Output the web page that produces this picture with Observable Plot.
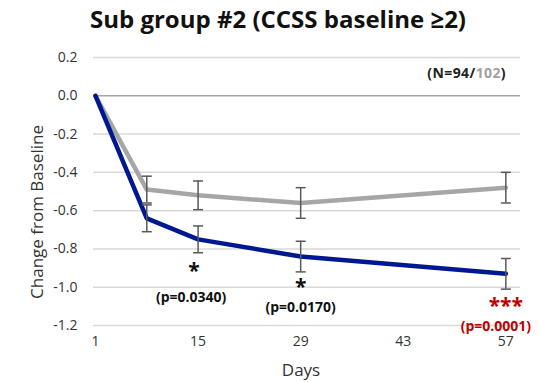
<!DOCTYPE html>
<html>
<head>
<meta charset="utf-8">
<script src="https://cdn.jsdelivr.net/npm/d3@7"></script>
<script src="https://cdn.jsdelivr.net/npm/@observablehq/plot@0.6"></script>
<style>
  html, body { margin: 0; padding: 0; background: #fff; }
  svg { font-family: "Open Sans", "Noto Sans", sans-serif; }
</style>
</head>
<body>
<div id="chart"></div>
<script>
const days = [1, 8, 15, 29, 57];
const activeMean = [0, -0.64, -0.75, -0.84, -0.93];
const activeErr = [0, 0.07, 0.07, 0.08, 0.08];
const placeboMean = [0, -0.49, -0.52, -0.56, -0.48];
const placeboErr = [0, 0.07, 0.075, 0.08, 0.08];
const yTicks = [0.2, 0.0, -0.2, -0.4, -0.6, -0.8, -1.0, -1.2];
const xTicks = [1, 15, 29, 43, 57];
const annDays = [15, 29, 57];
const annStars = ["*", "*", "***"];
const annP = ["(p=0.0340)", "(p=0.0170)", "(p=0.0001)"];

const active = days.map((d, i) => ({day: d, v: activeMean[i], e: activeErr[i]}));
const placebo = days.map((d, i) => ({day: d, v: placeboMean[i], e: placeboErr[i]}));
const ann = annDays.map((d, i) => ({day: d, v: activeMean[days.indexOf(d)], star: annStars[i], p: annP[i]}));

const cap = {draw(ctx) { const w = 5; ctx.moveTo(-w, 0); ctx.lineTo(w, 0); }};
const errMarks = (data) => {
  const f = data.filter(d => d.e > 0);
  return [
    Plot.ruleX(f, {x: "day", y1: d => d.v - d.e, y2: d => d.v + d.e, stroke: "#595959", strokeWidth: 1.5}),
    Plot.dot(f, {x: "day", y: d => d.v - d.e, symbol: cap, stroke: "#595959", strokeWidth: 1.5, r: 5}),
    Plot.dot(f, {x: "day", y: d => d.v + d.e, symbol: cap, stroke: "#595959", strokeWidth: 1.5, r: 5})
  ];
};
const annMark = (i, dxS, dyS, dxP, dyP, color) => [
  Plot.text([ann[i]], {x: "day", y: "v", text: "star", fill: color, fontWeight: "bold", fontSize: 21, lineHeight: 0.8, dx: dxS, dy: dyS}),
  Plot.text([ann[i]], {x: "day", y: "v", text: "p", fill: color, fontWeight: "bold", fontSize: 14, dx: dxP, dy: dyP})
];

const chart = Plot.plot({
  width: 539,
  height: 382,
  marginLeft: 95,
  marginRight: 19,
  marginTop: 57,
  marginBottom: 57,
  style: {fontFamily: "'Open Sans', 'Noto Sans', sans-serif", fontSize: "14px", color: "#333"},
  x: {domain: [1, 59], ticks: xTicks, tickSize: 0, tickPadding: 11, label: null, tickFormat: d => String(d)},
  y: {domain: [-1.2, 0.2], ticks: yTicks, tickSize: 0, tickPadding: 18, label: null, tickFormat: d => d.toFixed(1)},
  marks: [
    Plot.ruleY(yTicks.filter(t => t !== 0), {y: d => d, stroke: "#d9d9d9", strokeWidth: 1.5, insetLeft: -2}),
    Plot.ruleY([0], {stroke: "#a6a6a6", strokeWidth: 1.5, insetLeft: -2}),
    Plot.line(placebo, {x: "day", y: "v", stroke: "#a6a6a6", strokeWidth: 4.5}),
    Plot.line(active, {x: "day", y: "v", stroke: "#00188f", strokeWidth: 4.5}),
    ...errMarks(placebo),
    ...errMarks(active),
    ...annMark(0, -4, 33, -7, 58, "#111"),
    ...annMark(1, 0, 32, 0, 51, "#111"),
    ...annMark(2, 0, 34, -10, 53, "#c00000")
  ]
});

const svg = d3.select(chart);
svg.append("text")
  .attr("x", 278).attr("y", 28)
  .attr("text-anchor", "middle")
  .attr("font-size", 24).attr("font-weight", "bold").attr("fill", "#111")
  .text("Sub group #2 (CCSS baseline ≥2)");
svg.append("text")
  .attr("transform", "translate(43,212) rotate(-90)")
  .attr("text-anchor", "middle")
  .attr("font-size", 17).attr("fill", "#333")
  .text("Change from Baseline");
svg.append("text")
  .attr("x", 301).attr("y", 376)
  .attr("text-anchor", "middle")
  .attr("font-size", 17).attr("fill", "#333")
  .text("Days");
const n = svg.append("text")
  .attr("x", 506).attr("y", 78)
  .attr("text-anchor", "end")
  .attr("font-size", 14).attr("font-weight", "bold").attr("fill", "#222")
  .attr("letter-spacing", 0.4);
n.append("tspan").text("(N=94/");
n.append("tspan").attr("fill", "#a0a0a0").text("102");
n.append("tspan").text(")");

document.getElementById("chart").appendChild(chart);
</script>
</body>
</html>
